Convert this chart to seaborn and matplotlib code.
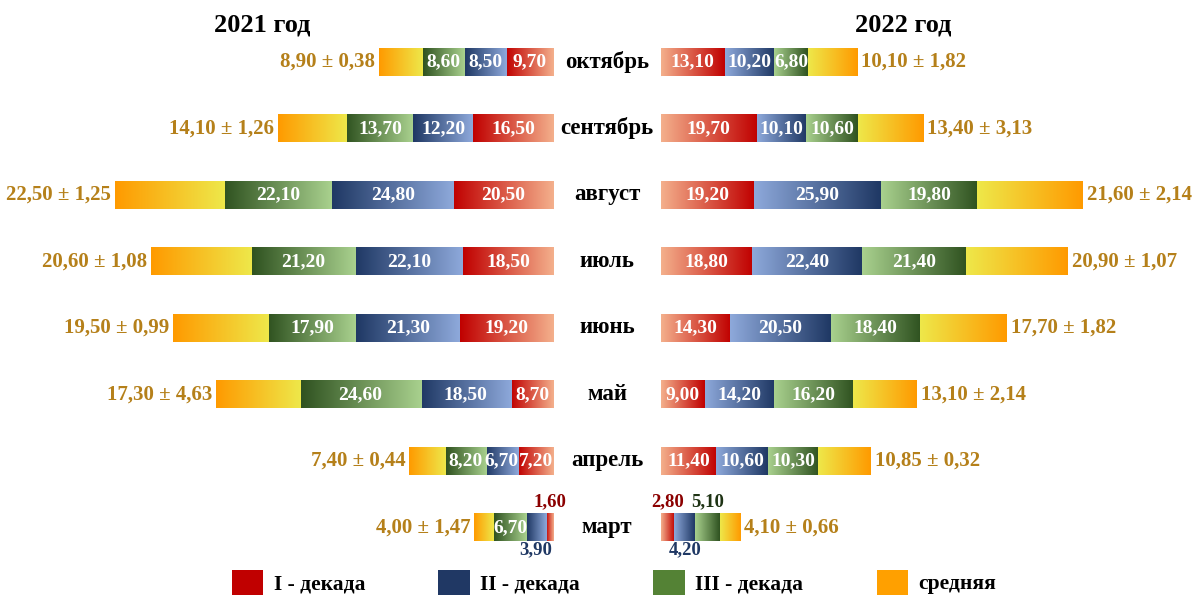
import numpy as np
import seaborn as sns
import matplotlib.pyplot as plt
from matplotlib.patches import Patch

# months, top to bottom
months = ["октябрь", "сентябрь", "август", "июль", "июнь", "май", "апрель", "март"]

# 2021
dec1_2021 = [9.70, 16.50, 20.50, 18.50, 19.20, 8.70, 7.20, 1.60]
dec2_2021 = [8.50, 12.20, 24.80, 22.10, 21.30, 18.50, 6.70, 3.90]
dec3_2021 = [8.60, 13.70, 22.10, 21.20, 17.90, 24.60, 8.20, 6.70]
mean_2021 = [8.90, 14.10, 22.50, 20.60, 19.50, 17.30, 7.40, 4.00]
sd_2021 = [0.38, 1.26, 1.25, 1.08, 0.99, 4.63, 0.44, 1.47]

# 2022
dec1_2022 = [13.10, 19.70, 19.20, 18.80, 14.30, 9.00, 11.40, 2.80]
dec2_2022 = [10.20, 10.10, 25.90, 22.40, 20.50, 14.20, 10.60, 4.20]
dec3_2022 = [6.80, 10.60, 19.80, 21.40, 18.40, 16.20, 10.30, 5.10]
mean_2022 = [10.10, 13.40, 21.60, 20.90, 17.70, 13.10, 10.85, 4.10]
sd_2022 = [1.82, 3.13, 2.14, 1.07, 1.82, 2.14, 0.32, 0.66]

series = ["I - декада", "II - декада", "III - декада", "средняя"]
solid = ["#C00000", "#203864", "#548235", "#FFA000"]
# gradient ends: (outer/dark, inner/light)
grads = [("#C00000", "#F4B08C"), ("#1F3864", "#8EA9DB"),
         ("#2F5220", "#A9D18E"), ("#FF9A00", "#EEE84A")]
out_colors = ["#8B0000", "#1F3864", "#1E3314"]
mean_color = "#B5801A"


def fmt(v):
    return f"{v:.2f}".replace(".", ",")


sns.set_theme(style="white")
plt.rcParams["font.family"] = ["Liberation Serif", "DejaVu Serif"]
plt.rcParams["font.weight"] = "bold"
plt.rcParams["text.color"] = "black"

fig = plt.figure(figsize=(11.97, 5.96), dpi=100)
ax = fig.add_axes([0, 0, 1, 1])

gap = 11.0
bar_h = 0.42
y = np.arange(len(months))

sides = [
    (-1, [dec1_2021, dec2_2021, dec3_2021, mean_2021], sd_2021),
    (1, [dec1_2022, dec2_2022, dec3_2022, mean_2022], sd_2022),
]

for sign, cols, sds in sides:
    start = np.full(len(months), gap)
    for k, vals in enumerate(cols):
        vals = np.array(vals)
        left = start if sign > 0 else -(start + vals)
        bars = ax.barh(y, vals, left=left, height=bar_h, color=solid[k], zorder=1)
        cmap = sns.blend_palette(list(grads[k]), as_cmap=True)
        grad = np.linspace(0, 1, 256).reshape(1, -1)
        if sign > 0:
            grad = grad[:, ::-1]
        for i, p in enumerate(bars.patches):
            x0, y0, w, h = p.get_x(), p.get_y(), p.get_width(), p.get_height()
            ax.imshow(grad, cmap=cmap, extent=(x0, x0 + w, y0 + h, y0),
                      aspect="auto", interpolation="bicubic", zorder=2)
            xc = x0 + w / 2
            if k < 3:
                if vals[i] >= 6:
                    ax.text(xc, i, fmt(vals[i]), ha="center", va="center",
                            color="white", fontsize=14, zorder=3)
                else:
                    above = k != 1
                    ax.text(xc, i - 0.38 if above else i + 0.34, fmt(vals[i]),
                            ha="center", va="center", color=out_colors[k],
                            fontsize=13.5, zorder=3)
            else:
                lab = f"{fmt(vals[i])} ± {fmt(sds[i])}"
                if sign < 0:
                    ax.text(x0 - 0.8, i, lab, ha="right", va="center",
                            color=mean_color, fontsize=15, zorder=3)
                else:
                    ax.text(x0 + w + 0.8, i, lab, ha="left", va="center",
                            color=mean_color, fontsize=15, zorder=3)
        start = start + vals

for i, m in enumerate(months):
    ax.text(0, i, m, ha="center", va="center", color="black", fontsize=16.5)

ax.set_xlim(-124.4, 120.9)
ax.set_ylim(8.03, -0.932)
ax.axis("off")

fig.text(262 / 1197, 1 - 25 / 596, "2021 год", ha="center", va="center", fontsize=19)
fig.text(903 / 1197, 1 - 25 / 596, "2022 год", ha="center", va="center", fontsize=19)

handles = [Patch(facecolor=c, edgecolor="none") for c in solid]
fig.legend(handles, series, loc="lower center", ncol=4, frameon=False,
           fontsize=15.5, handlelength=1.45, handleheight=1.4, handletextpad=0.5,
           columnspacing=3.4, bbox_to_anchor=(0.513, -0.03))

fig.savefig("out.png", dpi=100)
